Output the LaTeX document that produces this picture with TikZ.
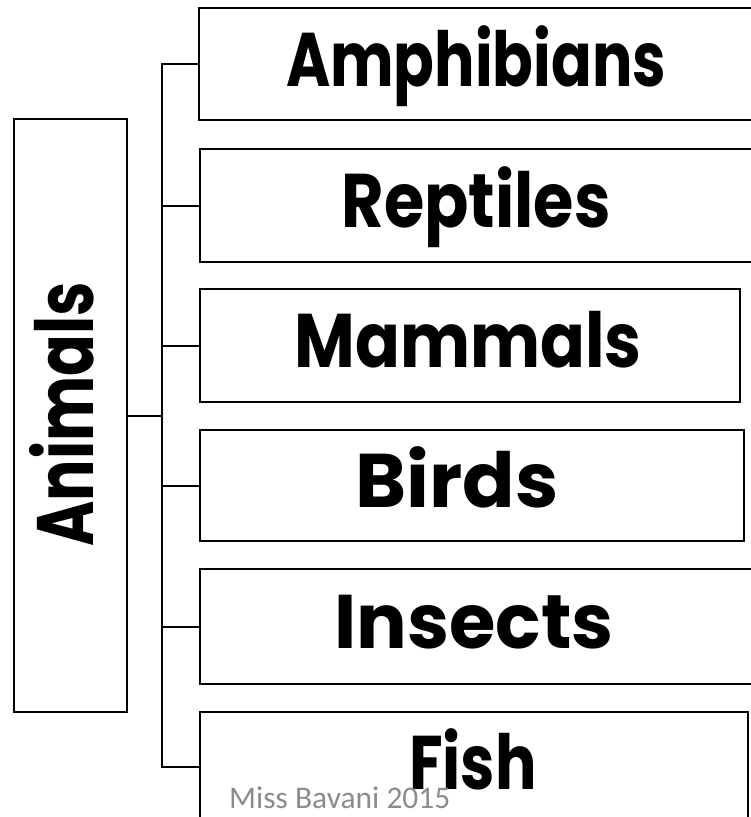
\documentclass[tikz,border=0pt]{standalone}
\usepackage{fontspec}
\newfontfamily\lblfont{Poppins}
\newfontfamily\signfont{Carlito}
\definecolor{signgray}{HTML}{8C8C8C}
\tikzset{
  box/.style={draw=black, line width=2.4pt, rectangle, anchor=north west, inner sep=0pt},
  lbl/.style={font=\lblfont\bfseries\fontsize{76}{80}\selectfont, text height=58pt, text depth=12pt, inner sep=0pt},
  conn/.style={draw=black, line width=2pt},
}
\begin{document}
\begin{tikzpicture}[x=1pt,y=-1pt]
\useasboundingbox (0,0) rectangle (751,817);
\begin{scope}
\clip (0,0) rectangle (751,817);
\node[box, minimum width=113pt, minimum height=593pt] (animals) at (13,118) {};
\node[box, minimum width=556pt, minimum height=112pt] (amph) at (198,7) {};
\node[box, minimum width=555pt, minimum height=113pt] (rept) at (199,148) {};
\node[box, minimum width=540pt, minimum height=113pt] (mamm) at (199,288) {};
\node[box, minimum width=544pt, minimum height=111pt] (bird) at (199,429) {};
\node[box, minimum width=555pt, minimum height=115pt] (insc) at (199,568) {};
\node[box, minimum width=548pt, minimum height=110pt] (fish) at (199,711) {};
\coordinate (trunk) at (162,0);
\draw[conn] (amph.west) -- (amph.west -| trunk) -- (fish.west -| trunk) -- (fish.west);
\foreach \n in {rept,mamm,bird,insc} \draw[conn] (\n.west) -- (\n.west -| trunk);
\draw[conn] (animals.east) -- (animals.east -| trunk);
\node[lbl] (tamph) at (476,63) {\scalebox{0.79}[1]{Amphibians}};
\node[lbl] (trept) at (476,204.5) {\scalebox{0.86}[1]{Reptiles}};
\node[lbl] (tmamm) at (468,344.5) {\scalebox{0.87}[1]{Mammals}};
\node[lbl] (tbird) at (457,484.5) {\scalebox{1.02}[1]{Birds}};
\node[lbl] (tinsc) at (474,625.5) {\scalebox{0.99}[1]{Insects}};
\node[lbl] (tfish) at (473,766) {\scalebox{0.81}[1]{Fish}};
\node[lbl, font=\lblfont\bfseries\fontsize{80}{84}\selectfont, rotate=90] (tanim) at (70,414.5) {\scalebox{0.77}[1]{Animals}};
\node[font=\signfont\fontsize{31.5}{33}\selectfont, text=signgray, anchor=base west, inner sep=0pt] (sign) at (229,808) {Miss Bavani 2015};
\end{scope}
\end{tikzpicture}
\end{document}
